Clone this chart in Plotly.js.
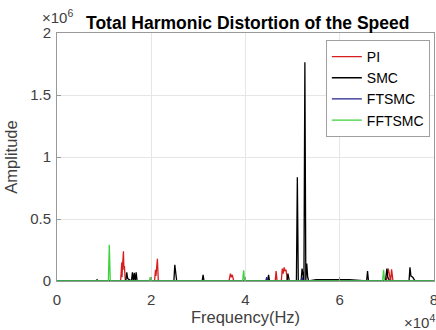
<!DOCTYPE html>
<html><head><meta charset="utf-8">
<script src="https://cdn.plot.ly/plotly-3.0.1.min.js"></script>
<style>body{margin:0;background:#fff}</style>
</head><body>
<div id="chart" style="width:436px;height:330px"></div>
<script>
// Frequency (Hz) and amplitude values
const piFreq = [0, 13500, 13750, 13800, 13900, 14100, 14200, 14300, 14500, 20700, 20900, 21000, 21300, 21500, 36500, 36800, 37000, 37200, 37500, 46300, 46500, 46700, 47600, 47800, 48000, 48200, 48400, 48600, 48900, 69900, 70300, 70600, 70800, 71000, 71300, 80000];
const piAmp  = [0, 0, 150000, 30000, 120000, 240000, 90000, 120000, 0, 0, 90000, 40000, 180000, 0, 0, 60000, 30000, 50000, 0, 0, 80000, 0, 0, 100000, 60000, 110000, 80000, 90000, 0, 0, 100000, 20000, 0, 95000, 0, 0];

const smcFreq = [0, 8300, 8500, 8700, 14600, 14800, 15000, 15800, 16000, 16200, 16400, 16600, 16800, 17000, 17200, 24800, 25000, 25200, 25400, 30800, 31000, 31200, 44700, 44900, 45100, 48800, 49000, 49300, 50800, 51000, 51200, 51800, 52000, 52400, 52600, 52800, 53000, 53200, 53400, 55000, 61000, 62000, 65700, 65900, 66100, 69700, 70000, 70200, 70600, 74700, 74900, 75100, 75500, 76000, 80000];
const smcAmp  = [0, 0, 10000, 0, 0, 70000, 20000, 0, 70000, 0, 65000, 0, 70000, 0, 0, 0, 130000, 40000, 0, 0, 50000, 0, 0, 50000, 0, 0, 60000, 0, 0, 836000, 0, 0, 100000, 0, 1764000, 0, 140000, 30000, 0, 10000, 10000, 10000, 0, 80000, 0, 0, 100000, 30000, 0, 0, 110000, 40000, 30000, 0, 0];

const ftsmcFreq = [0, 44300, 44500, 44700, 51800, 52000, 52200, 80000];
const ftsmcAmp  = [0, 0, 30000, 0, 0, 30000, 0, 0];

const fftsmcFreq = [0, 10900, 11100, 11300, 19600, 19800, 20000, 39400, 39600, 39800, 69100, 69300, 69500, 80000];
const fftsmcAmp  = [0, 0, 293000, 0, 0, 30000, 0, 0, 86000, 0, 0, 90000, 0, 0];

const seriesNames = ['PI', 'SMC', 'FTSMC', 'FFTSMC'];
const yTickVals = [0, 500000, 1000000, 1500000, 2000000];
const yTickText = ['0', '0.5', '1', '1.5', '2'];
const xTickVals = [0, 20000, 40000, 60000, 80000];
const xTickText = ['0', '2', '4', '6', '8'];

const colors = ['rgb(215,30,30)', 'rgb(0,0,0)', 'rgb(35,35,140)', 'rgb(60,210,60)'];
const xs = [piFreq, smcFreq, ftsmcFreq, fftsmcFreq];
const ys = [piAmp, smcAmp, ftsmcAmp, fftsmcAmp];

const traces = seriesNames.map((n, i) => ({
  x: xs[i], y: ys[i], name: n, type: 'scatter', mode: 'lines',
  line: {color: colors[i], width: 1.3}
}));

const fam = 'Liberation Sans, Arial, sans-serif';
const tickCol = '#404040';

const layout = {
  width: 436, height: 330,
  margin: {l: 57, r: 2, t: 33, b: 49},
  paper_bgcolor: '#fff', plot_bgcolor: '#fff',
  font: {family: fam, size: 15, color: tickCol},
  showlegend: true,
  legend: {x: 0.989, y: 0.972, xanchor: 'right', yanchor: 'top',
           bgcolor: '#fff', bordercolor: '#a0a0a0', borderwidth: 1,
           font: {family: fam, size: 14, color: '#000'},
           tracegroupgap: 0, itemwidth: 30},
  xaxis: {range: [0, 80000], tickvals: xTickVals, ticktext: xTickText,
          automargin: false, ticklabeloverflow: 'allow',
          showgrid: true, gridcolor: '#e6e6e6', zeroline: false,
          showline: true, linecolor: '#999', mirror: true,
          ticks: 'inside', ticklen: 4, tickcolor: '#999',
          ticklabelstandoff: 5,
          tickfont: {size: 15, color: tickCol},
          title: {text: 'Frequency(Hz)', font: {size: 16.5, color: tickCol}, standoff: 4}},
  yaxis: {range: [0, 2000000], tickvals: yTickVals, ticktext: yTickText,
          automargin: false, ticklabeloverflow: 'allow',
          showgrid: true, gridcolor: '#e6e6e6', zeroline: false,
          showline: true, linecolor: '#999', mirror: true,
          ticks: 'inside', ticklen: 4, tickcolor: '#999',
          ticklabelstandoff: 2,
          tickfont: {size: 15, color: tickCol},
          title: {text: 'Amplitude', font: {size: 16.5, color: tickCol}, standoff: 8}},
  annotations: [
    {text: '<b>Total Harmonic Distortion of the Speed</b>', xref: 'paper', yref: 'paper',
     x: 0.504, y: 1, yshift: -2, xanchor: 'center', yanchor: 'bottom', showarrow: false,
     font: {family: fam, size: 17.5, color: '#000'}},
    {text: '×10<sup>6</sup>', xref: 'paper', yref: 'paper', x: 0, xshift: -17, y: 1, yshift: 5,
     xanchor: 'left', yanchor: 'bottom', showarrow: false, font: {family: fam, size: 15, color: tickCol}},
    {text: '×10<sup>4</sup>', xref: 'paper', yref: 'paper', x: 1, xshift: 3, y: 0, yshift: -29,
     xanchor: 'right', yanchor: 'top', showarrow: false, font: {family: fam, size: 15, color: tickCol}}
  ]
};

Plotly.newPlot('chart', traces, layout, {displayModeBar: false, staticPlot: true});
</script>
</body></html>
